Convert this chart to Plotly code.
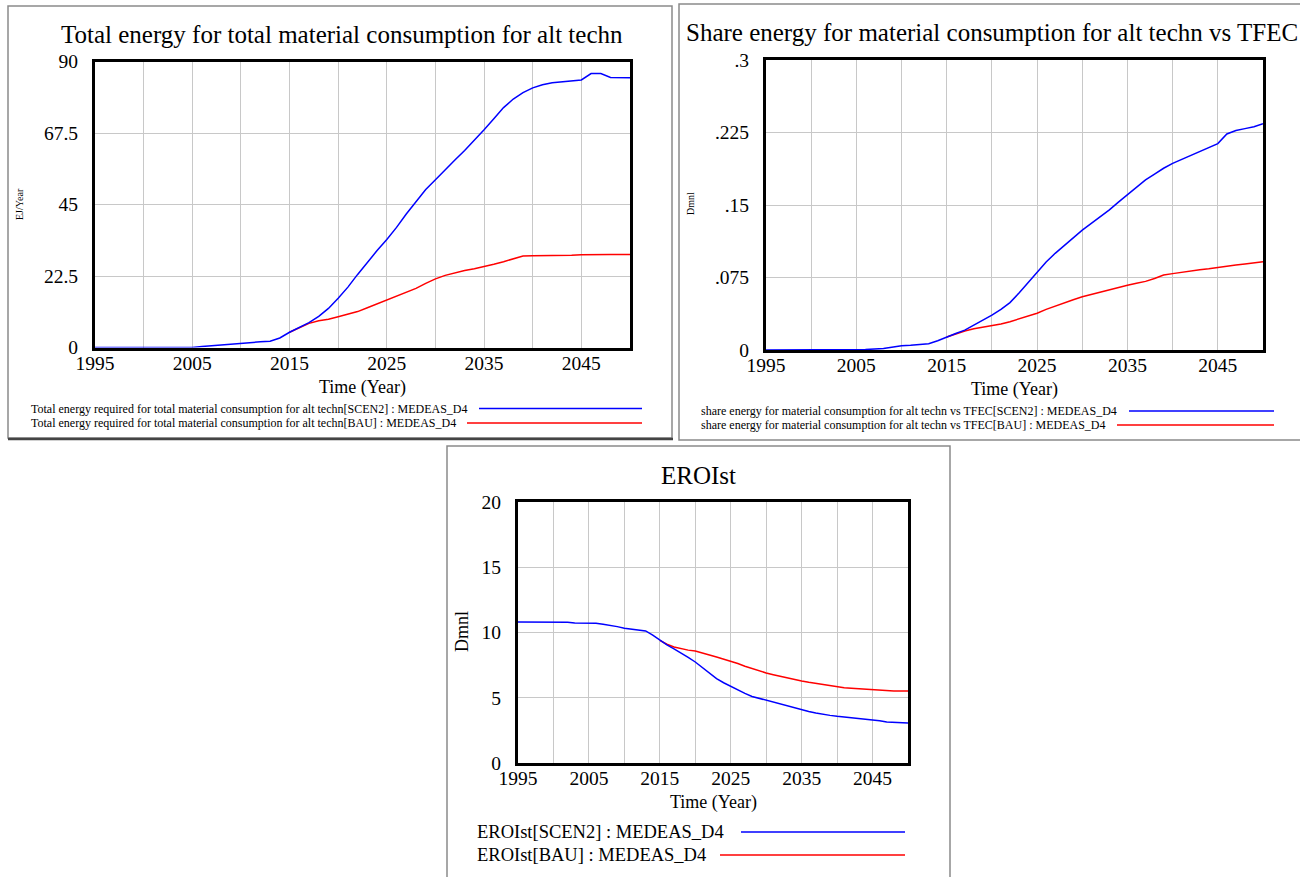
import plotly.graph_objects as go

W, H = 1300, 877

# ---------------- data ----------------
years = list(range(1995, 2051))
years_bau = list(range(2015, 2051))

energy_scen2_years = [1995, 2000, 2005, 2006, 2008, 2010, 2012, 2013, 2014, 2015, 2016, 2017, 2018, 2019,
                      2020, 2021, 2022, 2023, 2024, 2025, 2026, 2027, 2028, 2029, 2030, 2031, 2032, 2033,
                      2034, 2035, 2036, 2037, 2038, 2039, 2040, 2041, 2042, 2043, 2044, 2045, 2046, 2047,
                      2048, 2049, 2050]
energy_scen2 = [0, 0, 0, 0.3, 0.8, 1.5, 1.8, 2.0, 3.0, 4.8, 6.3, 7.8, 9.8, 12.3,
                15.5, 19.0, 23.0, 26.8, 30.5, 34.0, 37.8, 42.0, 46.0, 49.7, 52.8, 56.0, 59.0, 62.0,
                65.2, 68.5, 72.0, 75.5, 78.2, 80.2, 81.7, 82.7, 83.3, 83.6, 83.9, 84.2, 86.2, 86.2,
                85.0, 84.9, 84.9]
energy_bau = [4.8, 6.3, 7.6, 8.4, 8.9, 9.7, 10.5, 11.3, 12.5, 13.7, 15.0, 16.2, 17.4, 18.6,
              20.2, 21.6, 22.7, 23.5, 24.2, 24.8, 25.4, 26.2, 27.0, 27.9, 28.8, 28.9, 28.9, 29.0,
              29.0, 29.0, 29.2, 29.3, 29.3, 29.3, 29.3, 29.3]

share_scen2_years = [1995, 2000, 2005, 2006, 2008, 2009, 2010, 2011, 2012, 2013, 2014, 2015, 2016, 2017,
                     2018, 2019, 2020, 2021, 2022, 2023, 2024, 2025, 2026, 2027, 2028, 2029, 2030, 2031,
                     2032, 2033, 2034, 2035, 2036, 2037, 2038, 2039, 2040, 2041, 2042, 2043, 2044, 2045,
                     2046, 2047, 2048, 2049, 2050]
share_scen2 = [0, 0, 0, 0.0005, 0.0015, 0.003, 0.0045, 0.005, 0.0055, 0.0065, 0.0095, 0.0135, 0.017, 0.0205,
               0.0255, 0.031, 0.036, 0.042, 0.049, 0.059, 0.070, 0.081, 0.091, 0.100, 0.108, 0.117, 0.124, 0.131,
               0.138, 0.145, 0.153, 0.161, 0.169, 0.176, 0.182, 0.188, 0.193, 0.197, 0.201, 0.205, 0.209, 0.2135,
               0.2235, 0.227, 0.229, 0.231, 0.234]
share_bau = [0.0135, 0.017, 0.0197, 0.022, 0.0235, 0.0248, 0.027, 0.0293, 0.032, 0.035, 0.038, 0.042,
             0.0455, 0.049, 0.052, 0.055, 0.0575, 0.060, 0.062, 0.0645, 0.067, 0.069, 0.071, 0.074,
             0.0775, 0.079, 0.0805, 0.082, 0.083, 0.084, 0.0855, 0.087, 0.088, 0.089, 0.090, 0.0913]

eroi_scen2 = [10.8, 10.8, 10.8, 10.8, 10.8, 10.8, 10.8, 10.78, 10.73, 10.72, 10.72, 10.7, 10.63, 10.55,
              10.45, 10.32, 10.25, 10.22, 10.12, 9.8, 9.4, 9.05, 8.75, 8.45, 8.1, 7.74, 7.3, 6.88,
              6.46, 6.15, 5.87, 5.6, 5.33, 5.1, 4.95, 4.8, 4.65, 4.5, 4.34, 4.22, 4.09, 3.95,
              3.84, 3.73, 3.65, 3.58, 3.52, 3.46, 3.4, 3.36, 3.32, 3.24, 3.14, 3.1, 3.08, 3.07]
eroi_bau = [9.4, 9.1, 8.89, 8.75, 8.65, 8.58, 8.45, 8.28, 8.12, 7.97, 7.82, 7.62, 7.42, 7.23,
            7.06, 6.9, 6.77, 6.64, 6.51, 6.39, 6.28, 6.18, 6.09, 6.0, 5.9, 5.82, 5.77, 5.73,
            5.7, 5.66, 5.62, 5.57, 5.52, 5.52, 5.52, 5.52]

x_tickvals = list(range(1995, 2051, 5))
x_ticktext = ["1995", "", "2005", "", "2015", "", "2025", "", "2035", "", "2045", ""]

y1_tickvals = [0, 22.5, 45, 67.5, 90]
y1_ticktext = ["0", "22.5", "45", "67.5", "90"]
y2_tickvals = [0, 0.075, 0.15, 0.225, 0.3]
y2_ticktext = ["0", ".075", ".15", ".225", ".3"]
y3_tickvals = [0, 5, 10, 15, 20]
y3_ticktext = ["0", "5", "10", "15", "20"]

titles = ["Total energy for total material consumption for alt techn",
          "Share energy for material consumption for alt techn vs TFEC",
          "EROIst"]
y_titles = ["EJ/Year", "Dmnl", "Dmnl"]
x_title = "Time (Year)"
legend_texts = [
    ["Total energy required for total material consumption for alt techn[SCEN2] : MEDEAS_D4",
     "Total energy required for total material consumption for alt techn[BAU] : MEDEAS_D4"],
    ["share energy for material consumption for alt techn vs TFEC[SCEN2] : MEDEAS_D4",
     "share energy for material consumption for alt techn vs TFEC[BAU] : MEDEAS_D4"],
    ["EROIst[SCEN2] : MEDEAS_D4", "EROIst[BAU] : MEDEAS_D4"],
]

BLUE = "#0000ff"
RED = "#ff0000"
FONT = "Liberation Serif"

def px(x):
    return x / W

def py(y):
    return 1 - y / H

fig = go.Figure()

# panel 1
fig.add_trace(go.Scatter(x=years_bau, y=energy_bau, mode="lines", line=dict(color=RED, width=1.5),
                         xaxis="x", yaxis="y", showlegend=False))
fig.add_trace(go.Scatter(x=energy_scen2_years, y=energy_scen2, mode="lines", line=dict(color=BLUE, width=1.5),
                         xaxis="x", yaxis="y", showlegend=False))
# panel 2
fig.add_trace(go.Scatter(x=years_bau, y=share_bau, mode="lines", line=dict(color=RED, width=1.5),
                         xaxis="x2", yaxis="y2", showlegend=False))
fig.add_trace(go.Scatter(x=share_scen2_years, y=share_scen2, mode="lines", line=dict(color=BLUE, width=1.5),
                         xaxis="x2", yaxis="y2", showlegend=False))
# panel 3
fig.add_trace(go.Scatter(x=years_bau, y=eroi_bau, mode="lines", line=dict(color=RED, width=1.5),
                         xaxis="x3", yaxis="y3", showlegend=False))
fig.add_trace(go.Scatter(x=years, y=eroi_scen2, mode="lines", line=dict(color=BLUE, width=1.5),
                         xaxis="x3", yaxis="y3", showlegend=False))

# plot rectangles in pixels: (left, right, top, bottom)
plots = [(95, 630, 61.5, 347.5), (766, 1263, 60, 350), (518, 908, 502, 763)]
yinfo = [([0, 90], y1_tickvals, y1_ticktext), ([0, 0.3], y2_tickvals, y2_ticktext),
         ([0, 20], y3_tickvals, y3_ticktext)]

axis_common = dict(showline=True, mirror=True, linecolor="black", linewidth=3,
                   showgrid=True, gridcolor="#c8c8c8", gridwidth=1, zeroline=False,
                   ticks="", fixedrange=True, automargin=False,
                   tickfont=dict(family=FONT, size=19.5, color="black"))

layout_axes = {}
for i, (l, r, t, b) in enumerate(plots):
    suffix = "" if i == 0 else str(i + 1)
    yr, yv, yt = yinfo[i]
    layout_axes["xaxis" + suffix] = dict(domain=[px(l), px(r)], anchor="y" + suffix, range=[1995, 2050],
                                         tickmode="array", tickvals=x_tickvals, ticktext=x_ticktext,
                                         ticklabelstandoff=-4, **axis_common)
    layout_axes["yaxis" + suffix] = dict(domain=[py(b), py(t)], anchor="x" + suffix, range=yr,
                                         tickmode="array", tickvals=yv, ticktext=yt,
                                         ticklabelstandoff=10, **axis_common)

fig.update_layout(width=W, height=H, autosize=False, margin=dict(l=0, r=0, t=0, b=0, pad=0),
                  paper_bgcolor="white", plot_bgcolor="white", showlegend=False, **layout_axes)

annotations = []
shapes = []

# panel frames (left, right, top, bottom)
frames = [(8, 672, 6, 438), (679, 1304, 4, 440), (447, 950, 446, 880)]
for (l, r, t, b) in frames:
    shapes.append(dict(type="rect", xref="paper", yref="paper", x0=px(l), x1=px(r), y0=py(b), y1=py(t),
                       line=dict(color="#8a8a8a", width=1.5), layer="below"))
# darker shadow edge along the bottom of the first panel
shapes.append(dict(type="line", xref="paper", yref="paper", x0=px(8), x1=px(673), y0=py(439), y1=py(439),
                   line=dict(color="#444444", width=2.5)))

# titles
title_pos = [(342, 35), (992, 33), (698, 475)]
for txt, (x, y) in zip(titles, title_pos):
    annotations.append(dict(text=txt, x=px(x), y=py(y), xref="paper", yref="paper", showarrow=False,
                            xanchor="center", yanchor="middle", font=dict(family=FONT, size=25, color="black")))

# x titles
xt_pos = [(362.5, 387), (1014, 390), (713, 802)]
for (x, y) in xt_pos:
    annotations.append(dict(text=x_title, x=px(x), y=py(y), xref="paper", yref="paper", showarrow=False,
                            xanchor="center", yanchor="middle", font=dict(family=FONT, size=18, color="black")))

# y titles
yt_pos = [(19, 204, 10), (690, 204, 10), (462, 632, 18)]
for txt, (x, y, s) in zip(y_titles, yt_pos):
    annotations.append(dict(text=txt, x=px(x), y=py(y), xref="paper", yref="paper", showarrow=False,
                            textangle=-90, xanchor="center", yanchor="middle",
                            font=dict(family=FONT, size=s, color="black")))

# legends: text on the left, line sample to the right
legend_geom = [
    # (text_x, font size, [(y, line_x0, line_x1), ...])
    (29, 12, [(408.5, 479, 642), (423, 467, 642)]),
    (699, 12, [(411, 1129, 1274), (425, 1117, 1274)]),
    (475, 18.5, [(832, 741, 905), (855, 720, 905)]),
]
for texts, (tx, fs, rows) in zip(legend_texts, legend_geom):
    for txt, (y, lx0, lx1), col in zip(texts, rows, [BLUE, RED]):
        annotations.append(dict(text=txt, x=px(tx), y=py(y), xref="paper", yref="paper", showarrow=False,
                                xanchor="left", yanchor="middle",
                                font=dict(family=FONT, size=fs, color="black")))
        shapes.append(dict(type="line", xref="paper", yref="paper", x0=px(lx0), x1=px(lx1), y0=py(y), y1=py(y),
                           line=dict(color=col, width=1.5)))

fig.update_layout(annotations=annotations, shapes=shapes)

fig.write_html("out.html", config={"displayModeBar": False},
               post_script="document.body.style.margin='0';document.body.style.overflow='hidden';")
